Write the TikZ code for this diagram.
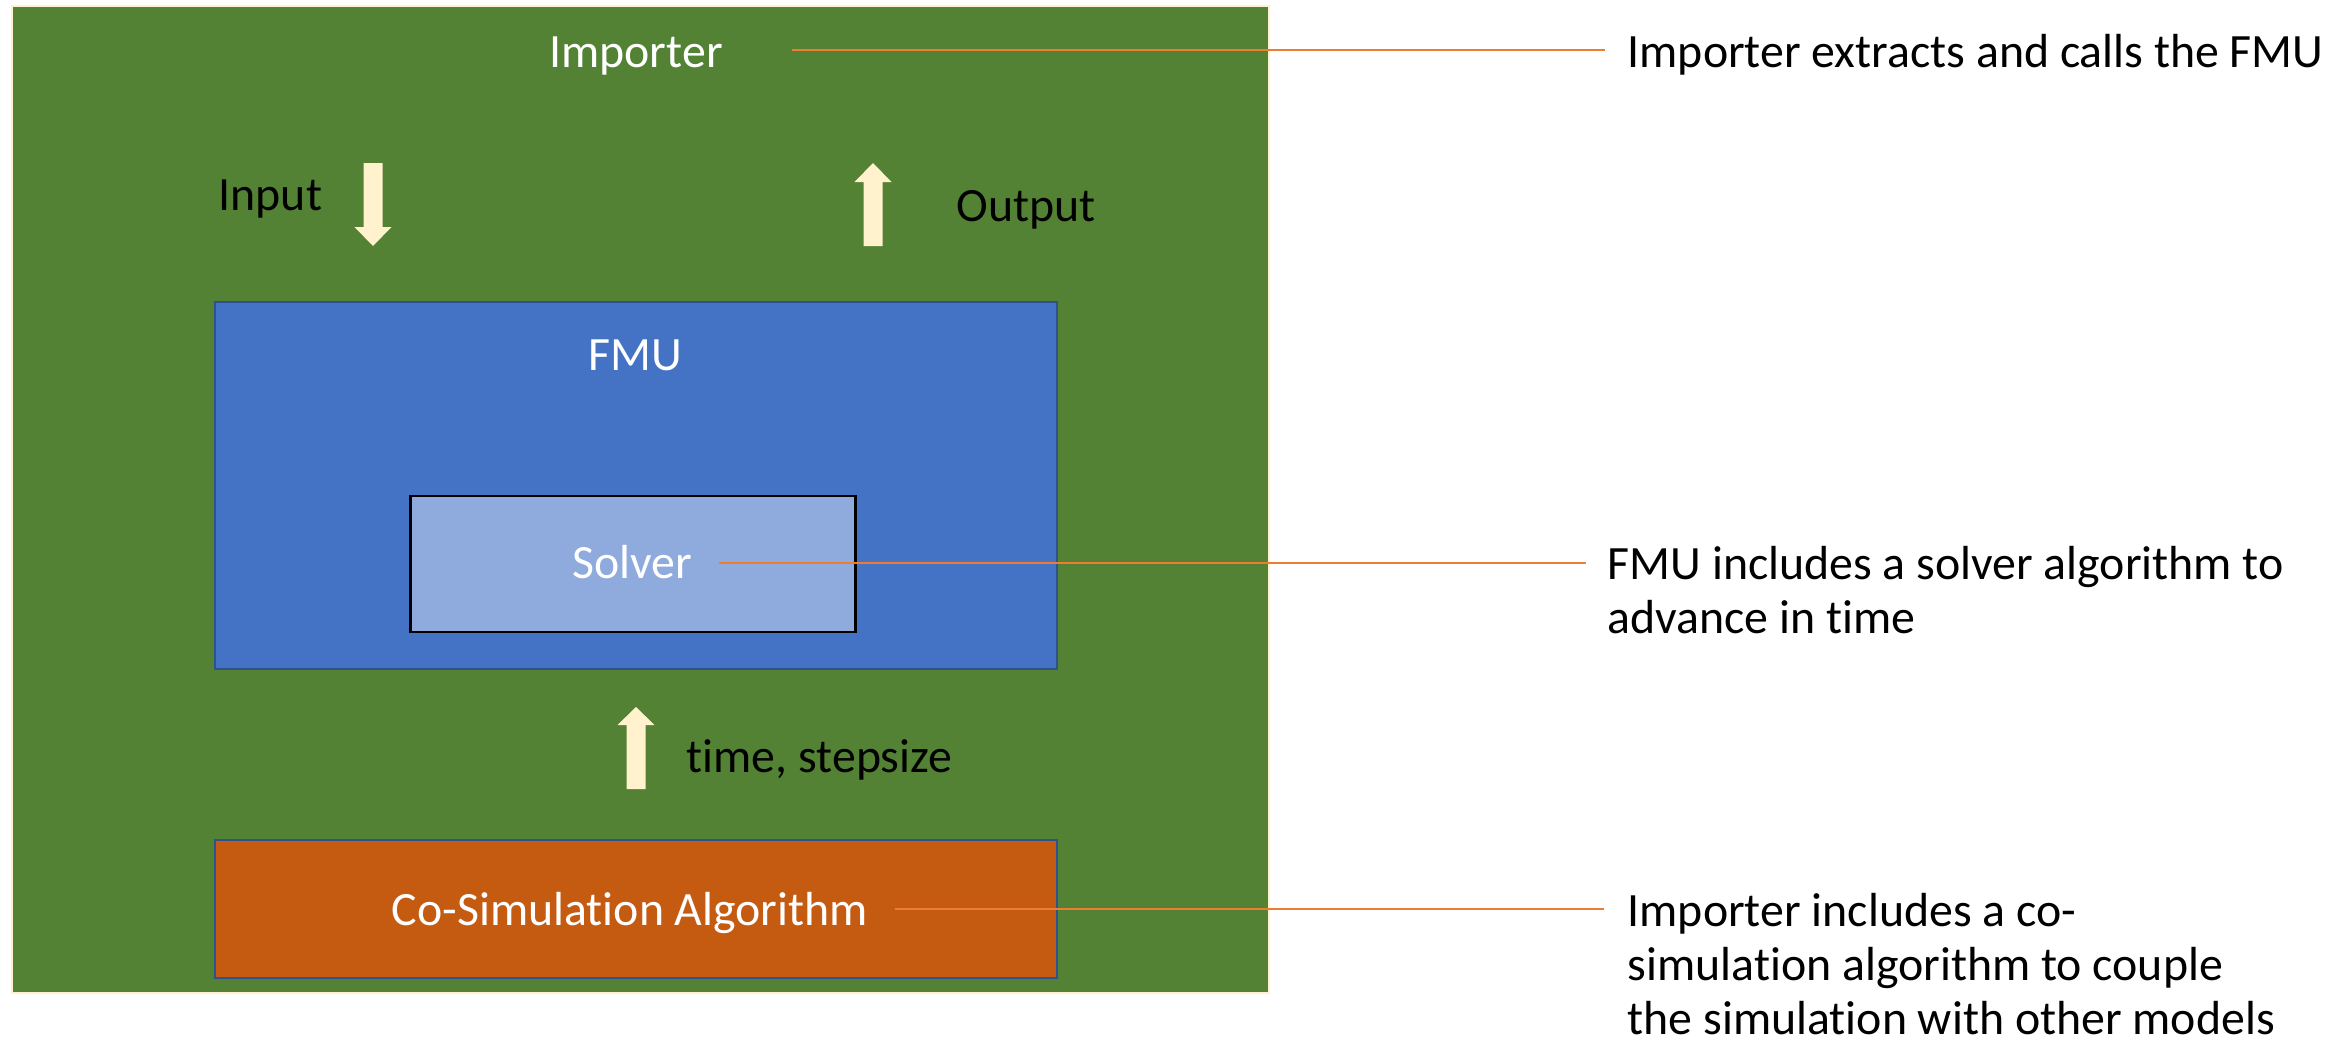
\documentclass[tikz,border=0pt]{standalone}
\usepackage{fontspec}
\setmainfont{Carlito}[Ligatures={NoCommon}]
\definecolor{impgreen}{HTML}{548235}
\definecolor{fmublue}{HTML}{4472C4}
\definecolor{solverblue}{HTML}{8FAADC}
\definecolor{cosimorange}{HTML}{C55A11}
\definecolor{darkborder}{HTML}{2F528F}
\definecolor{arrowfill}{HTML}{FFF2CC}
\definecolor{leaderc}{HTML}{ED7D31}
\tikzset{
  boxshape/.style={rectangle, inner sep=0pt, outer sep=0pt},
  whitetxt/.style={text=white, inner sep=0pt, anchor=base},
  blacktxt/.style={text=black, inner sep=0pt, anchor=base west},
  notetxt/.style={text=black, inner sep=0pt, anchor=base west, align=left},
  leader/.style={draw=leaderc, line width=0.45pt},
  blockarrow/.style={fill=arrowfill, draw=none}
}
\begin{document}
\begin{tikzpicture}[x=0.01cm, y=-0.01cm, font=\fontsize{13.6pt}{15.3pt}\selectfont]
\useasboundingbox (0,0) rectangle (2351,1042);
\fill[white] (0,0) rectangle (2351,1042);

% boxes
\node[boxshape, fill=impgreen, draw=arrowfill, line width=0.6pt,
      minimum width=12.57cm, minimum height=9.87cm] (importer) at (640.5,499.5) {};
\node[boxshape, fill=fmublue, draw=darkborder, line width=0.6pt,
      minimum width=8.42cm, minimum height=3.67cm] (fmu) at (636,485.5) {};
\node[boxshape, fill=solverblue, draw=black, line width=0.8pt,
      minimum width=4.44cm, minimum height=1.36cm] (solver) at (633,564) {};
\node[boxshape, fill=cosimorange, draw=darkborder, line width=0.6pt,
      minimum width=8.42cm, minimum height=1.38cm] (cosim) at (636,909) {};

% labels inside
\node[whitetxt] (importerlbl) at (636,67) {Importer};
\node[whitetxt] (fmulbl) at (635,370) {FMU};
\node[whitetxt] (solverlbl) at (632,578) {Solver};
\node[whitetxt] (cosimlbl) at (630,925) {Co-Simulation Algorithm};
\node[blacktxt] (inputlbl) at (218,210) {Input};
\node[blacktxt] (outputlbl) at (956,221) {Output};
\node[blacktxt] (timelbl) at (686,772) {time, stepsize};

% block arrows
\path[blockarrow] (363.5,163) -- (382.5,163) -- (382.5,227) -- (391.5,227)
  -- (373,246) -- (354.5,227) -- (363.5,227) -- cycle;
\path[blockarrow] (863.5,246) -- (882.5,246) -- (882.5,182) -- (891.5,182)
  -- (873,163) -- (854.5,182) -- (863.5,182) -- cycle;
\path[blockarrow] (626.5,789) -- (645.5,789) -- (645.5,725) -- (654.5,725)
  -- (636,707) -- (617.5,725) -- (626.5,725) -- cycle;

% notes (base anchor = baseline of the last line)
\node[notetxt] (note1) at (1627,67) {Importer extracts and calls the FMU};
\node[notetxt] (note2) at (1607,633) {FMU includes a solver algorithm to\\advance in time};
\node[notetxt] (note3) at (1627,1034) {Importer includes a co-\\simulation algorithm to couple\\the simulation with other models};

% leader lines
\coordinate (l1s) at (792,50);  \coordinate (l1e) at (1605,50);
\coordinate (l2s) at (719,563); \coordinate (l2e) at (1586,563);
\coordinate (l3s) at (895,909); \coordinate (l3e) at (1604,909);
\draw[leader] (l1s) -- (l1e);
\draw[leader] (l2s) -- (l2e);
\draw[leader] (l3s) -- (l3e);
\end{tikzpicture}
\end{document}
